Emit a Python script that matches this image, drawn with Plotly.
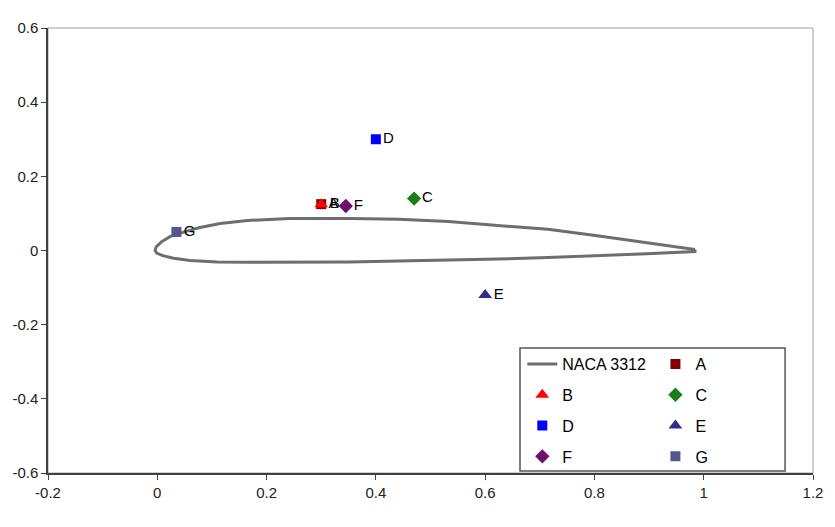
import plotly.graph_objects as go

# Airfoil outline (NACA 3312): upper surface TE->LE, then lower LE->TE
foil_x = [0.984, 0.896, 0.805, 0.715, 0.624, 0.533, 0.442, 0.351, 0.242, 0.165, 0.115, 0.078, 0.051, 0.024, 0.008, -0.002, -0.004,
          -0.001, 0.010, 0.030, 0.060, 0.110, 0.169, 0.260, 0.351, 0.442, 0.533, 0.624, 0.715, 0.805, 0.896, 0.984, 0.984]
foil_y = [0.003, 0.022, 0.040, 0.057, 0.067, 0.078, 0.084, 0.086, 0.086, 0.081, 0.073, 0.062, 0.051, 0.038, 0.024, 0.010, 0.000,
          -0.007, -0.014, -0.021, -0.027, -0.031, -0.032, -0.032, -0.031, -0.028, -0.026, -0.023, -0.019, -0.015, -0.009, -0.003, 0.003]

# Points
point_names = ["A", "B", "C", "D", "E", "F", "G"]
point_x = [0.30, 0.30, 0.47, 0.40, 0.60, 0.345, 0.035]
point_y = [0.125, 0.125, 0.14, 0.30, -0.12, 0.12, 0.05]
point_symbols = ["square", "triangle-up", "diamond", "square", "triangle-up", "diamond", "square"]
point_colors = ["#800000", "#FF0000", "#1A7F1A", "#0000FF", "#2E2E8C", "#6E0F6E", "#55558F"]
point_sizes = [10, 12, 11, 10, 12, 11, 10]
point_legend = ["legend2", "legend", "legend2", "legend", "legend2", "legend", "legend2"]

x_tickvals = [-0.2, 0, 0.2, 0.4, 0.6, 0.8, 1, 1.2]
x_ticktext = ["-0.2", "0", "0.2", "0.4", "0.6", "0.8", "1", "1.2"]
y_tickvals = [-0.6, -0.4, -0.2, 0, 0.2, 0.4, 0.6]
y_ticktext = ["-0.6", "-0.4", "-0.2", "0", "0.2", "0.4", "0.6"]

FONT = "Liberation Sans, Arial, sans-serif"

fig = go.Figure()
fig.add_trace(go.Scatter(
    x=foil_x, y=foil_y, mode="lines", name="NACA 3312",
    line=dict(color="#6E6E6E", width=3), legend="legend", legendgroup="foil",
))
for i, n in enumerate(point_names):
    fig.add_trace(go.Scatter(
        x=[point_x[i]], y=[point_y[i]], mode="markers+text", name=n,
        text=[n], textposition="middle right",
        textfont=dict(family=FONT, size=15, color="#000000"),
        marker=dict(symbol=point_symbols[i], color=point_colors[i], size=point_sizes[i], line=dict(width=0)),
        legend=point_legend[i], legendgroup=n,
    ))

# legend frame
fig.add_shape(type="rect", xref="paper", yref="paper", x0=0.617, x1=0.9635, y0=0.0045, y1=0.281,
              line=dict(color="#555555", width=1.5), fillcolor="white", layer="below")
# plot-area frame (top & right lighter)
fig.add_shape(type="rect", xref="paper", yref="paper", x0=0, x1=1, y0=0, y1=1,
              line=dict(color="#A0A0A0", width=1), layer="below")

legend_common = dict(
    bgcolor="rgba(0,0,0,0)", borderwidth=0, orientation="v",
    font=dict(family=FONT, size=16, color="#000000"),
    tracegroupgap=7, traceorder="grouped", xanchor="left", yanchor="top",
)

fig.update_layout(
    width=835, height=527,
    margin=dict(l=47, r=20, t=28, b=54),
    paper_bgcolor="white", plot_bgcolor="white",
    showlegend=True,
    legend=dict(x=0.620, y=0.283, **legend_common),
    legend2=dict(x=0.794, y=0.283, **legend_common),
    xaxis=dict(range=[-0.2, 1.2], tickvals=x_tickvals, ticktext=x_ticktext,
               showgrid=False, zeroline=False, showline=True, linecolor="#404040", linewidth=2,
               ticks="outside", ticklen=5, tickcolor="#404040",
               tickfont=dict(family=FONT, size=15, color="#222222")),
    yaxis=dict(range=[-0.6, 0.6], tickvals=y_tickvals, ticktext=y_ticktext,
               showgrid=False, zeroline=False, showline=True, linecolor="#404040", linewidth=1.5,
               ticks="outside", ticklen=5, tickcolor="#404040",
               tickfont=dict(family=FONT, size=15, color="#222222")),
)

fig.write_html("out.html")
